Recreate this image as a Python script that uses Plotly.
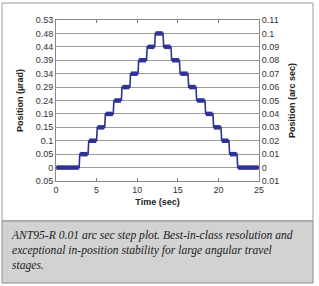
import plotly.graph_objects as go

# ---- data ----
step_times = [2.85, 3.95, 5.0, 6.0, 7.05, 8.05, 9.1, 10.1, 11.15, 12.15,
              13.18, 14.16, 15.2, 16.26, 17.24, 18.35, 19.33, 20.32, 21.3, 22.3]
levels = [0.0, 0.01, 0.02, 0.03, 0.04, 0.05, 0.06, 0.07, 0.08, 0.09, 0.10,
          0.09, 0.08, 0.07, 0.06, 0.05, 0.04, 0.03, 0.02, 0.01, 0.0]
t_start, t_end = 0.0, 25.0

right_vals = [0.11, 0.10, 0.09, 0.08, 0.07, 0.06, 0.05, 0.04, 0.03, 0.02, 0.01, 0.0, -0.01]
right_text = ["0.11", "0.1", "0.09", "0.08", "0.07", "0.06", "0.05", "0.04", "0.03",
              "0.02", "0.01", "0", "0.01"]
left_text = ["0.53", "0.48", "0.44", "0.39", "0.34", "0.29", "0.24", "0.19", "0.15",
             "0.1", "0.05", "0", "0.05"]
x_ticks = [0, 5, 10, 15, 20, 25]

caption = ("ANT95-R 0.01 arc sec step plot. Best-in-class resolution and<br>"
           "exceptional in-position stability for large angular travel<br>"
           "stages.")

RISE = 0.08
# thin step path
xs, ys = [t_start], [levels[0]]
for i, t in enumerate(step_times):
    xs += [t, t + RISE]
    ys += [levels[i], levels[i + 1]]
xs.append(t_end)
ys.append(levels[-1])

# thick plateau bands
starts = [t_start] + [t + RISE for t in step_times]
ends = step_times + [t_end]
px_, py_ = [], []
for s, e, v in zip(starts, ends, levels):
    px_ += [s + 0.05, e - 0.05, None]
    py_ += [v, v, None]

W, H = 319, 286
L, R, T, B = 56, 60, 20, 105
pw, ph = W - L - R, H - T - B


def px(x):
    return (x - L) / pw


def py(y):
    return (H - B - y) / ph


BLUE = "#2e3294"
fig = go.Figure()
fig.add_trace(go.Scatter(x=xs, y=ys, mode="lines",
                         line=dict(color=BLUE, width=1.6),
                         showlegend=False, hoverinfo="skip"))
fig.add_trace(go.Scatter(x=px_, y=py_, mode="lines",
                         line=dict(color=BLUE, width=4.5),
                         showlegend=False, hoverinfo="skip"))
fig.add_trace(go.Scatter(x=[0], y=[0], yaxis="y2", mode="markers",
                         marker=dict(opacity=0), showlegend=False, hoverinfo="skip"))

tickfont = dict(family="Liberation Sans, Arial", size=9, color="#333")
fig.update_layout(
    template="none",
    width=W, height=H, autosize=False,
    margin=dict(l=L, r=R, t=T, b=B, pad=0),
    paper_bgcolor="white", plot_bgcolor="white",
    font=dict(family="Liberation Sans, Arial", size=9, color="#222"),
    xaxis=dict(range=[0, 25], tickvals=x_ticks, ticks="inside", ticklen=3,
               tickcolor="#777", mirror="ticks", showline=True, linecolor="#888",
               linewidth=1, showgrid=False, zeroline=False, tickfont=tickfont,
               automargin=False,
               title=dict(text="<b>Time (sec)</b>", font=dict(size=9, color="#222"),
                          standoff=4)),
    yaxis=dict(range=[-0.01, 0.11], tickvals=right_vals, ticktext=left_text,
               showgrid=True, gridcolor="#9a9a9a", gridwidth=1, zeroline=False,
               showline=True, linecolor="#888", ticks="", tickfont=tickfont,
               automargin=False,
               title=dict(text="<b>Position (µrad)</b>", font=dict(size=9, color="#222"),
                          standoff=10)),
    yaxis2=dict(range=[-0.01, 0.11], overlaying="y", side="right",
                tickvals=right_vals, ticktext=right_text, showgrid=False,
                zeroline=False, showline=True, linecolor="#888", ticks="",
                tickfont=tickfont, automargin=False,
                title=dict(text="<b>Position (arc sec)</b>", font=dict(size=9, color="#222"),
                           standoff=10)),
    shapes=[
        dict(type="rect", xref="paper", yref="paper", layer="below",
             x0=px(2), x1=px(313), y0=py(221), y1=py(3),
             line=dict(color="#9a9a9a", width=1), fillcolor="white"),
        dict(type="rect", xref="paper", yref="paper", layer="below",
             x0=px(2), x1=px(313), y0=py(283), y1=py(221),
             line=dict(color="#8a8a8a", width=1), fillcolor="#d2d2d2"),
    ],
    annotations=[
        dict(text="<i>" + caption + "</i>", xref="paper", yref="paper",
             x=px(9), y=py(227), xanchor="left", yanchor="top", align="left",
             showarrow=False,
             font=dict(family="Liberation Serif, Times New Roman", size=11.6, color="#222")),
    ],
)

fig.write_html("out.html")
